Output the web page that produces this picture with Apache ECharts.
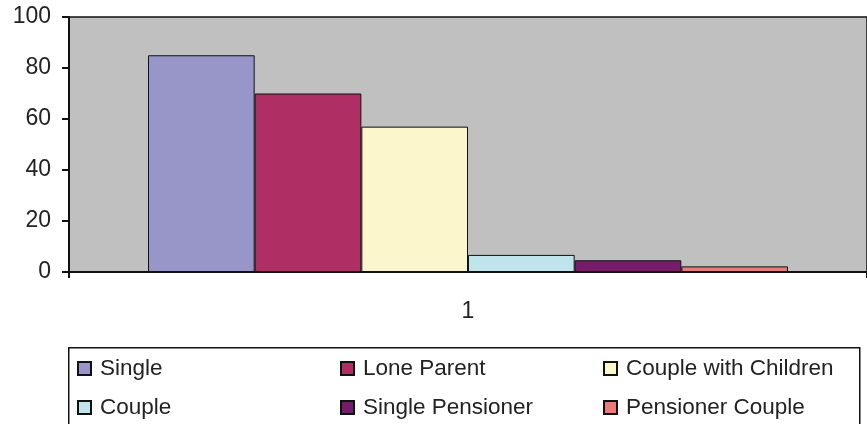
<!DOCTYPE html>
<html>
<head>
<meta charset="utf-8">
<script src="https://cdn.jsdelivr.net/npm/echarts@6/dist/echarts.min.js"></script>
<style>
    html, body { margin: 0; padding: 0; background: #fff; }
    #chart { width: 867px; height: 424px; }
</style>
</head>
<body>
<div id="chart"></div>
<script>
// data
var categories = ['1'];
var seriesNames = ['Single', 'Lone Parent', 'Couple with Children', 'Couple', 'Single Pensioner', 'Pensioner Couple'];
var seriesValues = [85, 70, 57, 6.7, 4.6, 2.2];
var seriesColors = ['#9896c8', '#af2f65', '#fcf6cc', '#bfe4ec', '#771c6a', '#eb7a7c'];
var yTicks = [0, 20, 40, 60, 80, 100];

var font = 'Liberation Sans, Arial, sans-serif';
var textColor = '#222';

var myChart = echarts.init(document.getElementById('chart'));

let series = seriesNames.map((name, i) => ({
    name: name,
    type: 'bar',
    data: [seriesValues[i]],
    barGap: 0,
    barCategoryGap: '19.8%',
    itemStyle: {
        color: seriesColors[i],
        borderColor: '#111',
        borderWidth: 1
    }
}));

// legend is 3 columns x 2 rows -> one vertical legend per column
let legendCol = (names, left) => ({
    orient: 'vertical',
    left: left,
    top: 357,
    padding: 0,
    itemGap: 16,
    itemWidth: 13,
    itemHeight: 13,
    icon: 'rect',
    selectedMode: false,
    data: names,
    textStyle: { fontFamily: font, fontSize: 22.5, lineHeight: 22, color: textColor, padding: [0, 0, 0, 4] }
});

var option = {
    animation: false,
    grid: {
        left: 69,
        top: 17,
        right: -4,
        bottom: 152,
        show: true,
        backgroundColor: '#c0c0c0',
        borderColor: '#111',
        borderWidth: 1.5
    },
    graphic: [{
        type: 'rect',
        left: 68,
        top: 347,
        shape: { width: 791, height: 82 },
        style: { fill: '#fff', stroke: '#111', lineWidth: 1.5 },
        z: -1
    }],
    legend: [
        legendCol([seriesNames[0], seriesNames[3]], 77),
        legendCol([seriesNames[1], seriesNames[4]], 340),
        legendCol([seriesNames[2], seriesNames[5]], 603)
    ],
    xAxis: {
        type: 'category',
        data: categories,
        axisLine: { lineStyle: { color: '#111', width: 2 } },
        axisTick: { show: true, length: 6, lineStyle: { color: '#111', width: 2 } },
        axisLabel: { fontFamily: font, fontSize: 23, color: textColor, margin: 28 }
    },
    yAxis: {
        type: 'value',
        min: yTicks[0],
        max: yTicks[yTicks.length - 1],
        interval: 20,
        splitLine: { show: false },
        axisLine: { show: true, lineStyle: { color: '#111', width: 2 } },
        axisTick: { show: true, length: 7, lineStyle: { color: '#111', width: 2 } },
        axisLabel: { fontFamily: font, fontSize: 23, color: textColor, margin: 18 }
    },
    series: series
};

myChart.setOption(option);
</script>
</body>
</html>
